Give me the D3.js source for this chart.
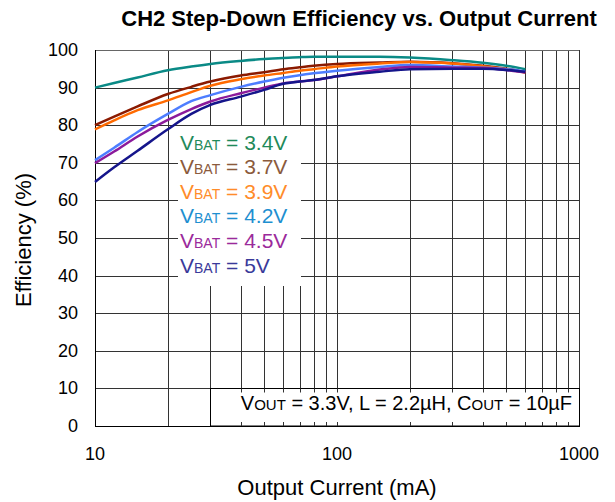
<!DOCTYPE html>
<html><head><meta charset="utf-8">
<script src="https://cdn.jsdelivr.net/npm/d3@7"></script>
<style>body{margin:0;background:#fff}svg{display:block;font-family:"Liberation Sans",Arial,sans-serif}</style>
</head><body><svg id="c" width="615" height="502"></svg>
<script>
const currents = [10,12,15,20,25,30,40,50,60,70,80,100,150,200,300,400,500,600];
const eff34 = [90.0,91.2,92.7,94.6,95.6,96.3,97.1,97.6,97.9,98.1,98.2,98.2,98.2,98.0,97.3,96.6,95.8,94.9];
const eff37 = [80.0,82.3,85.0,88.3,90.2,91.6,93.2,94.1,94.9,95.4,95.8,96.3,96.7,96.9,96.5,95.8,95.0,94.1];
const eff39 = [78.9,81.3,84.0,86.6,88.8,90.5,92.2,93.2,93.9,94.5,94.9,95.6,96.4,96.8,96.4,95.7,94.9,94.0];
const eff42 = [70.7,74.0,78.2,83.0,86.4,88.0,90.2,91.6,92.6,93.3,93.8,94.5,95.5,96.0,95.6,95.3,94.9,94.3];
const eff45 = [69.9,73.0,77.0,81.4,84.3,86.3,88.5,90.0,91.1,91.6,92.0,93.0,94.8,95.5,95.3,95.2,94.7,94.0];
const eff50 = [64.9,68.8,73.2,78.9,83.0,85.4,87.6,89.4,91.0,91.6,92.0,93.0,94.2,94.9,95.0,95.0,94.7,94.2];
const seriesNames = ["3.4V","3.7V","3.9V","4.2V","4.5V","5V"];
const seriesValues = [eff34,eff37,eff39,eff42,eff45,eff50];
const lineColors = ["#0a8a86","#8b1a00","#ff6a00","#4d7dff","#8b1a9b","#15158b"];
const labelColors = ["#1f8a5a","#8b5a3c","#ff8c2a","#1e8fd0","#9b2a9b","#3a3a9a"];
const yTicks = [0,10,20,30,40,50,60,70,80,90,100];
const xTickLabels = [10,100,1000];

const svg = d3.select("#c");
const L=95, R=579, T=50, B=426;
const x = d3.scaleLog().domain([10,1000]).range([L,R]);
const y = d3.scaleLinear().domain([0,100]).range([B,T]);
const gridColor = "#333";

const xGrid = [];
for (let d=10; d<1000; d*=10) for (let m=1;m<10;m++) xGrid.push(d*m);
xGrid.push(1000);

const g = svg.append("g");
g.selectAll(".hg").data(yTicks.filter(v=>v>0 && v<100)).enter().append("line")
 .attr("x1",L).attr("x2",R).attr("y1",d=>Math.round(y(d))+0.5).attr("y2",d=>Math.round(y(d))+0.5)
 .attr("stroke",gridColor).attr("stroke-width",1);
g.selectAll(".vg").data(xGrid.filter(v=>v>10)).enter().append("line")
 .attr("x1",d=>Math.round(x(d))+0.5).attr("x2",d=>Math.round(x(d))+0.5).attr("y1",T).attr("y2",B)
 .attr("stroke",gridColor).attr("stroke-width",1);
g.append("line").attr("x1",L).attr("x2",R).attr("y1",T+0.5).attr("y2",T+0.5).attr("stroke","#666");

// legend white box
g.append("rect").attr("x",178).attr("y",126).attr("width",123).attr("height",160).attr("fill","#fff");

// annotation box
const bx = Math.round(x(30))+0.5, byTop = Math.round(y(10))+0.5;
g.append("rect").attr("x",bx).attr("y",byTop).attr("width",R+0.5-bx).attr("height",B-byTop)
 .attr("fill","#fff").attr("stroke","#000").attr("stroke-width",1);
g.selectAll(".tk1").data(xGrid.filter(v=>v>30 && v<1000)).enter().append("line")
 .attr("x1",d=>Math.round(x(d))+0.5).attr("x2",d=>Math.round(x(d))+0.5).attr("y1",byTop).attr("y2",byTop+4)
 .attr("stroke",gridColor);
g.selectAll(".tk2").data(xGrid.filter(v=>v>30 && v<1000)).enter().append("line")
 .attr("x1",d=>Math.round(x(d))+0.5).attr("x2",d=>Math.round(x(d))+0.5).attr("y1",B-4).attr("y2",B)
 .attr("stroke",gridColor);

g.append("line").attr("x1",L+0.5).attr("x2",L+0.5).attr("y1",T).attr("y2",B+0.5).attr("stroke","#000");
g.append("line").attr("x1",L).attr("x2",R+1).attr("y1",B+0.5).attr("y2",B+0.5).attr("stroke","#000");

const line = d3.line().x((d,i)=>x(currents[i])).y(d=>y(d)).curve(d3.curveMonotoneX);
svg.append("g").selectAll("path").data(seriesValues).enter().append("path")
 .attr("d",d=>line(d)).attr("fill","none").attr("stroke",(d,i)=>lineColors[i]).attr("stroke-width",2.5)
 .attr("stroke-linejoin","round");

svg.append("g").selectAll("text").data(yTicks).enter().append("text")
 .attr("x",78).attr("y",d=>y(d)+6).attr("text-anchor","end").attr("font-size",18).attr("fill","#000").text(d=>d);
svg.append("g").selectAll("text").data(xTickLabels).enter().append("text")
 .attr("x",d=>x(d)).attr("y",460).attr("text-anchor","middle").attr("font-size",18).attr("fill","#000").text(d=>d);

svg.append("text").attr("x",(L+R)/2).attr("y",495).attr("text-anchor","middle").attr("font-size",22).text("Output Current (mA)");
svg.append("text").attr("transform","translate(31,240) rotate(-90)").attr("text-anchor","middle").attr("font-size",22).text("Efficiency (%)");
svg.append("text").attr("x",359).attr("y",26).attr("text-anchor","middle").attr("font-size",22).attr("font-weight","bold").text("CH2 Step-Down Efficiency vs. Output Current");

const leg = svg.append("g");
seriesNames.forEach((n,i)=>{
  const t = leg.append("text").attr("x",180).attr("y",149.5+24.6*i).attr("font-size",21).attr("fill",labelColors[i]);
  t.append("tspan").text("V");
  t.append("tspan").attr("font-size",14).text("BAT");
  t.append("tspan").text(" = "+n);
});

const an = svg.append("text").attr("x",572).attr("y",410).attr("text-anchor","end").attr("font-size",20).attr("fill","#000");
an.append("tspan").text("V");
an.append("tspan").attr("font-size",15).text("OUT");
an.append("tspan").text(" = 3.3V, L = 2.2\u00b5H, C");
an.append("tspan").attr("font-size",15).text("OUT");
an.append("tspan").text(" = 10\u00b5F");
</script></body></html>
